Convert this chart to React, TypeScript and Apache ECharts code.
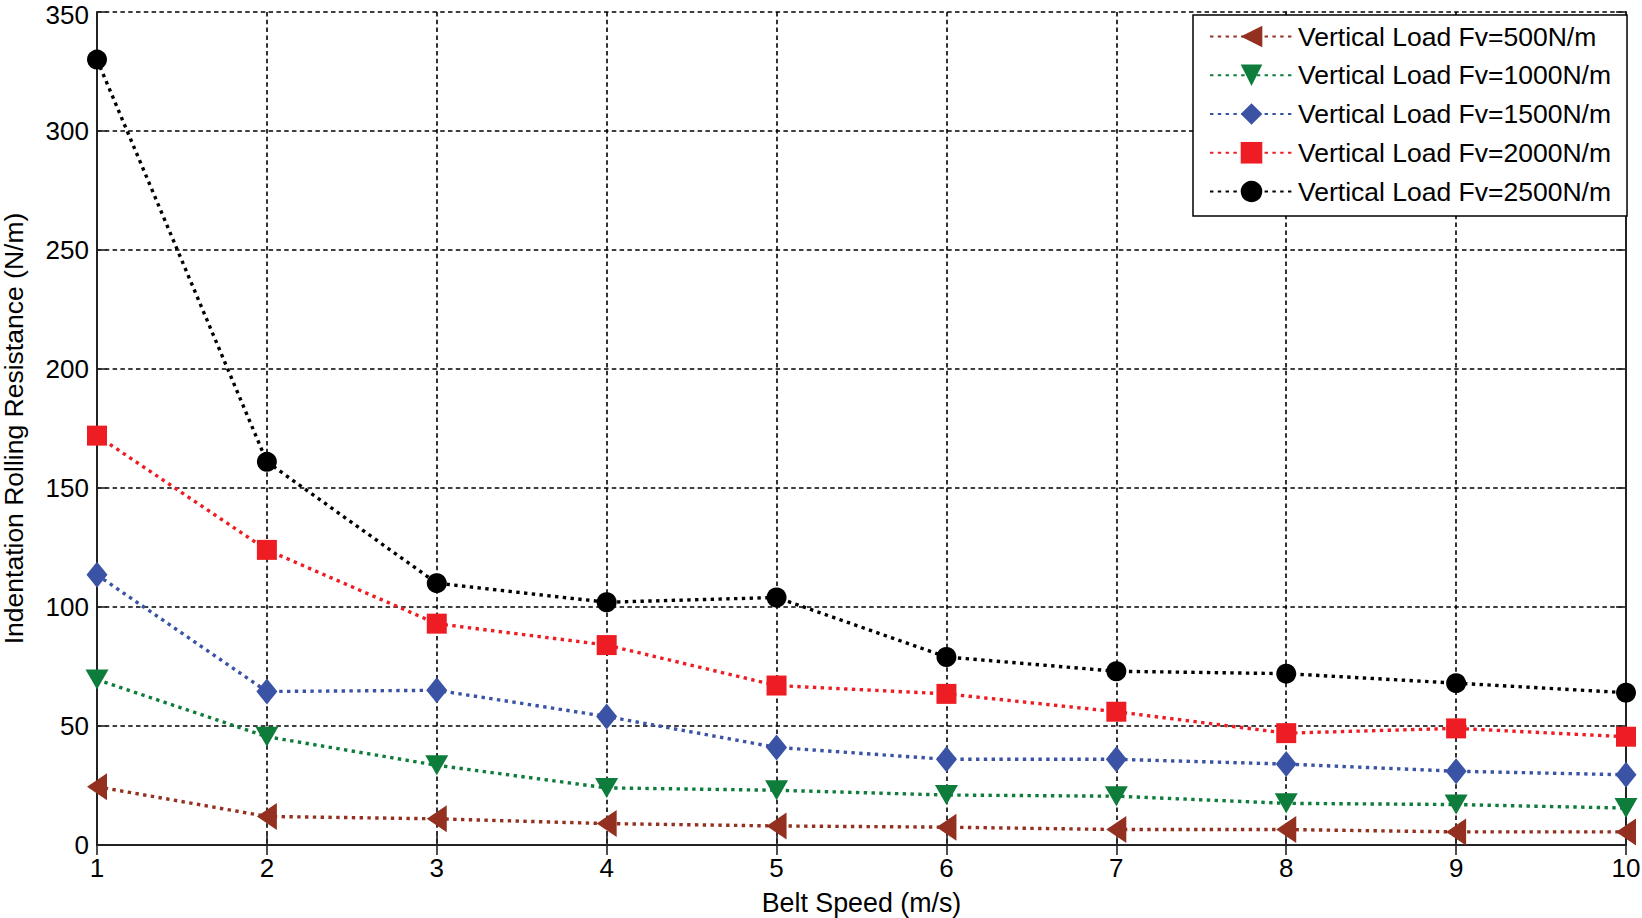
import React, { useEffect, useRef } from "react";
import * as echarts from "echarts";

const speeds = [1, 2, 3, 4, 5, 6, 7, 8, 9, 10];
const fv500 = [24.5, 12, 11, 9, 8, 7.5, 6.5, 6.5, 5.5, 5.5];
const fv1000 = [69.5, 45.5, 33.5, 24, 23, 21, 20.5, 17.5, 17, 15.5];
const fv1500 = [113.5, 64.5, 65, 54, 41, 36, 36, 34, 31, 29.5];
const fv2000 = [172, 124, 93, 84, 67, 63.5, 56, 47, 49, 45.5];
const fv2500 = [330, 161, 110, 102, 104, 79, 73, 72, 68, 64];

const seriesNames = [
  "Vertical Load Fv=500N/m",
  "Vertical Load Fv=1000N/m",
  "Vertical Load Fv=1500N/m",
  "Vertical Load Fv=2000N/m",
  "Vertical Load Fv=2500N/m",
];

const FONT = "'Liberation Sans', Arial, Helvetica, sans-serif";

export default function App() {
  const ref = useRef<HTMLDivElement>(null);
  useEffect(() => {
    document.body.style.margin = "0";
    const chart = echarts.init(ref.current!, null, { renderer: "svg" });
    const pts = (vals: number[]) => speeds.map((s, i) => [s, vals[i]]);
    const mk = (
      name: string,
      vals: number[],
      color: string,
      symbol: string,
      size: any,
      rotate: number,
      z: number
    ) => ({
      name,
      type: "line",
      data: pts(vals),
      symbol,
      symbolSize: size,
      symbolRotate: rotate,
      showSymbol: true,
      z,
      itemStyle: { color },
      lineStyle: { color, width: 3.4, type: [3.4, 4.4] },
    });
    const gridLine = { show: true, lineStyle: { color: "#000", width: 1.6, type: [4.5, 3.3] } };
    const axisLine = { show: true, lineStyle: { color: "#222", width: 2 } };
    const tick = { show: true, inside: true, length: 10, lineStyle: { color: "#222", width: 1.6 } };
    chart.setOption({
      animation: false,
      backgroundColor: "#fff",
      textStyle: { fontFamily: FONT },
      grid: {
        left: 97,
        right: 16,
        top: 12,
        bottom: 73,
        containLabel: false,
        outerBoundsMode: "none",
      },
      legend: {
        left: 1193,
        top: 15,
        orient: "vertical",
        data: seriesNames,
        itemWidth: 83,
        itemHeight: 27,
        itemGap: 11.75,
        padding: [8, 16, 11, 16],
        backgroundColor: "#fff",
        borderColor: "#000",
        borderWidth: 1.5,
        borderRadius: 0,
        textStyle: { fontSize: 26.5, color: "#000", fontFamily: FONT },
      },
      xAxis: [
        {
          type: "value",
          min: 1,
          max: 10,
          interval: 1,
          name: "Belt Speed (m/s)",
          nameLocation: "middle",
          nameGap: 44,
          nameTextStyle: { fontSize: 26.8, color: "#000", fontFamily: FONT },
          axisLine,
          axisTick: tick,
          axisLabel: { fontSize: 26, color: "#000", margin: 10, fontFamily: FONT },
          splitLine: gridLine,
        },
        {
          type: "value",
          position: "top",
          min: 1,
          max: 10,
          interval: 1,
          axisLine,
          axisTick: tick,
          axisLabel: { show: false },
          splitLine: { show: false },
        },
      ],
      yAxis: [
        {
          type: "value",
          min: 0,
          max: 350,
          interval: 50,
          name: "Indentation Rolling Resistance (N/m)",
          nameLocation: "middle",
          nameGap: 70,
          nameTextStyle: { fontSize: 26.5, color: "#000", fontFamily: FONT },
          axisLine,
          axisTick: tick,
          axisLabel: {
            fontSize: 26,
            color: "#000",
            margin: 8,
            fontFamily: FONT,
            formatter: (v: number) => (v === 350 ? `{top|${v}}` : `${v}`),
            rich: { top: { fontSize: 26, color: "#000", fontFamily: FONT, padding: [5, 0, 0, 0] } },
          },
          splitLine: gridLine,
        },
        {
          type: "value",
          position: "right",
          min: 0,
          max: 350,
          interval: 50,
          axisLine,
          axisTick: tick,
          axisLabel: { show: false },
          splitLine: { show: false },
        },
      ],
      series: [
        mk(seriesNames[0], fv500, "#93301F", "triangle", [27, 20], 90, 2),
        mk(seriesNames[1], fv1000, "#0E7C3A", "triangle", [23, 20], 180, 3),
        mk(seriesNames[2], fv1500, "#3A53A4", "diamond", [21, 26], 0, 4),
        mk(seriesNames[3], fv2000, "#EE1D23", "rect", [20, 20], 0, 5),
        mk(seriesNames[4], fv2500, "#000000", "circle", 20, 0, 6),
      ],
    });
    return () => chart.dispose();
  }, []);
  return (
    <div
      ref={ref}
      style={{ position: "absolute", left: 0, top: 0, width: 1642, height: 918 }}
    />
  );
}
